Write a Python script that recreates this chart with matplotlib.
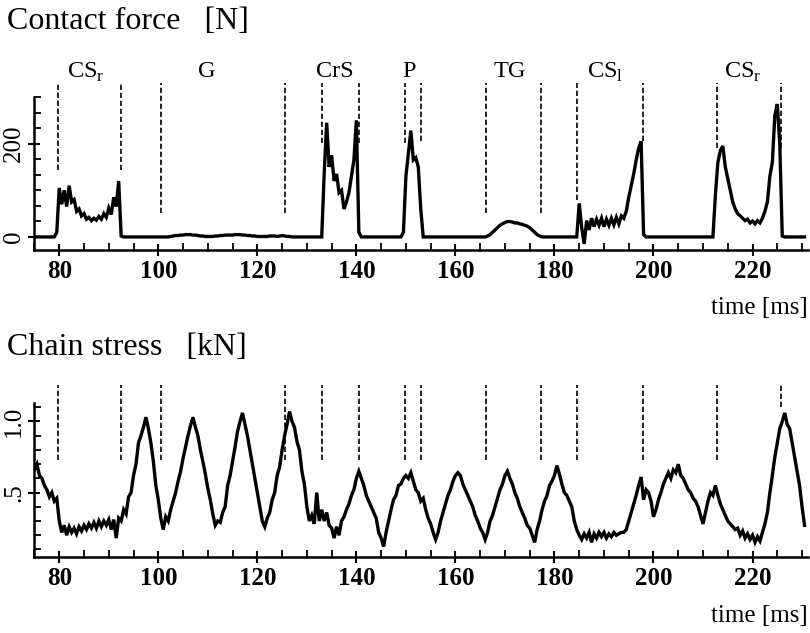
import numpy as np
import matplotlib
matplotlib.use("Agg")
import matplotlib.pyplot as plt
from matplotlib.ticker import MultipleLocator, FixedLocator

plt.rcParams['font.family'] = ['Liberation Serif', 'DejaVu Serif']
plt.rcParams['mathtext.fontset'] = 'custom'
plt.rcParams['mathtext.rm'] = 'Liberation Serif'

# ---------------- data ----------------
t0, dt = 75.0, 0.5   # sampling of the traces (ms)

# contact force [N], rows of 10 samples = 5 ms each
force = [
    0, 0, 0, 0, 0, 0, 0, 0, 0, 10,            # 75
    105, 70, 100, 65, 110, 75, 80, 55, 60, 45,  # 80
    50, 38, 42, 35, 40, 36, 44, 38, 50, 42,     # 85
    62, 48, 85, 65, 120, 2, 0, 0, 0, 0,         # 90
    0, 0, 0, 0, 0, 0, 0, 0, 0, 0,               # 95
    0, 0, 0, 0, 0, 1, 2, 3, 3, 4,               # 100
    4, 5, 5, 5, 4, 4, 3, 2, 2, 1,               # 105
    1, 1, 1, 2, 2, 3, 3, 4, 4, 4,               # 110
    4, 5, 5, 5, 4, 4, 3, 3, 2, 2,               # 115
    1, 1, 1, 1, 1, 2, 2, 2, 1, 2,               # 120
    3, 2, 1, 1, 0, 0, 0, 0, 0, 0,               # 125
    0, 0, 0, 0, 0, 0, 0, 135, 245, 150,         # 130
    175, 120, 135, 95, 100, 60, 75, 95, 130, 165,  # 135
    250, 10, 0, 0, 0, 0, 0, 0, 0, 0,            # 140
    0, 0, 0, 0, 0, 0, 0, 0, 0, 10,              # 145
    130, 180, 228, 165, 170, 150, 60, 0, 0, 0,  # 150
    0, 0, 0, 0, 0, 0, 0, 0, 0, 0,               # 155
    0, 0, 0, 0, 0, 0, 0, 0, 0, 0,               # 160
    0, 0, 0, 2, 5, 10, 15, 20, 25, 28,          # 165
    31, 33, 33, 32, 30, 30, 28, 27, 25, 23,     # 170
    20, 15, 10, 5, 2, 0, 0, 0, 0, 0,            # 175
    0, 0, 0, 0, 0, 0, 0, 0, 0, 0,               # 180
    72, 20, -15, 35, 15, 40, 22, 38, 25, 40,    # 185
    22, 38, 25, 40, 26, 42, 28, 45, 40, 55,     # 190
    85, 110, 135, 165, 190, 205, 5, 0, 0, 0,    # 195
    0, 0, 0, 0, 0, 0, 0, 0, 0, 0,               # 200
    0, 0, 0, 0, 0, 0, 0, 0, 0, 0,               # 205
    0, 0, 0, 0, 0, 90, 160, 185, 195, 150,      # 210
    125, 100, 75, 60, 50, 45, 40, 35, 38, 30,   # 215
    34, 28, 35, 30, 40, 55, 75, 130, 160, 260,  # 220
    285, 200, 2, 0, 0, 0, 0, 0, 0, 0,           # 225
    0, 0,                                       # 230
]

# chain stress [kN], rows of 10 samples = 5 ms each
stress = [
    0.66, 0.70, 0.62, 0.60, 0.55, 0.52, 0.47, 0.50, 0.44, 0.46,  # 75
    0.30, 0.22, 0.27, 0.20, 0.26, 0.22, 0.25, 0.21, 0.26, 0.23,  # 80
    0.27, 0.24, 0.28, 0.25, 0.29, 0.25, 0.30, 0.26, 0.30, 0.27,  # 85
    0.31, 0.24, 0.31, 0.18, 0.32, 0.30, 0.38, 0.35, 0.47, 0.50,  # 90
    0.62, 0.70, 0.85, 0.90, 0.96, 1.03, 0.95, 0.85, 0.72, 0.55,  # 95
    0.45, 0.32, 0.24, 0.33, 0.30, 0.38, 0.44, 0.50, 0.58, 0.65,  # 100
    0.74, 0.82, 0.90, 0.97, 1.03, 0.96, 0.90, 0.80, 0.72, 0.63,  # 105
    0.53, 0.45, 0.35, 0.27, 0.30, 0.29, 0.36, 0.40, 0.55, 0.62,  # 110
    0.72, 0.82, 0.93, 1.00, 1.06, 0.98, 0.90, 0.80, 0.70, 0.60,  # 115
    0.50, 0.40, 0.30, 0.26, 0.32, 0.36, 0.45, 0.50, 0.62, 0.68,  # 120
    0.80, 0.90, 0.98, 1.07, 1.00, 0.96, 0.86, 0.80, 0.65, 0.56,  # 125
    0.40, 0.30, 0.34, 0.28, 0.50, 0.30, 0.38, 0.30, 0.36, 0.27,  # 130
    0.25, 0.18, 0.26, 0.20, 0.30, 0.33, 0.38, 0.42, 0.48, 0.52,  # 135
    0.60, 0.65, 0.60, 0.55, 0.48, 0.44, 0.40, 0.36, 0.32, 0.22,  # 140
    0.18, 0.12, 0.22, 0.30, 0.38, 0.45, 0.48, 0.55, 0.56, 0.60,  # 145
    0.62, 0.60, 0.64, 0.58, 0.52, 0.50, 0.44, 0.46, 0.38, 0.32,  # 150
    0.28, 0.22, 0.17, 0.22, 0.30, 0.36, 0.42, 0.48, 0.52, 0.58,  # 155
    0.62, 0.64, 0.62, 0.56, 0.52, 0.48, 0.44, 0.40, 0.34, 0.30,  # 160
    0.25, 0.22, 0.17, 0.22, 0.30, 0.34, 0.40, 0.46, 0.52, 0.56,  # 165
    0.62, 0.65, 0.60, 0.56, 0.50, 0.46, 0.40, 0.36, 0.32, 0.27,  # 170
    0.25, 0.20, 0.15, 0.24, 0.30, 0.38, 0.44, 0.48, 0.55, 0.58,  # 175
    0.62, 0.69, 0.63, 0.56, 0.50, 0.48, 0.44, 0.40, 0.30, 0.24,  # 180
    0.20, 0.17, 0.21, 0.18, 0.22, 0.15, 0.21, 0.18, 0.22, 0.19,  # 185
    0.22, 0.18, 0.21, 0.19, 0.22, 0.20, 0.21, 0.22, 0.22, 0.24,  # 190
    0.30, 0.36, 0.42, 0.48, 0.55, 0.61, 0.45, 0.52, 0.50, 0.44,  # 195
    0.33, 0.38, 0.45, 0.50, 0.56, 0.60, 0.64, 0.60, 0.66, 0.64,  # 200
    0.70, 0.62, 0.60, 0.56, 0.52, 0.50, 0.46, 0.44, 0.40, 0.34,  # 205
    0.28, 0.36, 0.44, 0.50, 0.48, 0.55, 0.48, 0.42, 0.38, 0.34,  # 210
    0.30, 0.28, 0.26, 0.24, 0.25, 0.20, 0.23, 0.18, 0.21, 0.17,  # 215
    0.20, 0.15, 0.19, 0.16, 0.22, 0.28, 0.36, 0.50, 0.62, 0.75,  # 220
    0.85, 0.95, 1.00, 1.06, 0.98, 0.95, 0.85, 0.75, 0.65, 0.55,  # 225
    0.40, 0.27,                                                  # 230
]

# phase boundaries (ms)
boundaries = [79.7, 92.4, 100.6, 125.5, 133.0, 140.5, 149.8, 153.1,
              166.1, 177.3, 184.6, 197.8, 212.8, 225.7]
# phase labels and their centre times (ms)
phase_labels = ['CS$_\\mathregular{r}$', 'G', 'CrS', 'P', 'TG',
                'CS$_\\mathregular{l}$', 'CS$_\\mathregular{r}$']
phase_centres = [85.3, 109.8, 135.6, 150.7, 171.0, 190.3, 218.0]

# ---------------- styling / layout ----------------
force_line_bottom = [144, 144, 52, 52, 202, 202, 202, 205, 52, 52, 80, 205, 191, 191]
force_line_top = 331
stress_line_bottom = [0.73] * 13 + [1.10]
stress_line_top = 1.26

t_force = t0 + dt * np.arange(len(force))
t_stress = t0 + dt * np.arange(len(stress))

W, H = 810, 633
fig = plt.figure(figsize=(W / 100, H / 100), dpi=100)
ax1 = fig.add_axes([34 / W, 1 - 250 / H, (808 - 34) / W, (250 - 97) / H])
ax2 = fig.add_axes([34 / W, 1 - 557 / H, (808 - 34) / W, (557 - 403) / H])

dash = (0, (3.2, 1.6))
for ax in (ax1, ax2):
    ax.set_xlim(74.9, 231.2)
    for s in ('top', 'right'):
        ax.spines[s].set_visible(False)
    for s in ('left', 'bottom'):
        ax.spines[s].set_linewidth(1.8)
    ax.xaxis.set_major_locator(MultipleLocator(20))
    ax.xaxis.set_minor_locator(MultipleLocator(5))
    ax.tick_params(axis='both', which='major', direction='inout', length=9,
                   width=1.5, labelsize=18)
    ax.tick_params(axis='both', which='minor', direction='in', length=5,
                   width=1.3)
    ax.tick_params(axis='x', which='major', pad=3)
    ax.tick_params(axis='y', which='major', pad=2)

# top panel
ax1.plot(t_force, force, color='black', lw=2.4, solid_joinstyle='miter')
ax1.set_ylim(-28, 300)
ax1.yaxis.set_major_locator(FixedLocator([0, 200]))
ax1.yaxis.set_minor_locator(FixedLocator(list(np.arange(0, 301, 100 / 3))))
ax1.set_yticklabels(['0', '200'], rotation=90, va='center')
for b, yb in zip(boundaries, force_line_bottom):
    ax1.plot([b, b], [yb, force_line_top], color='black', lw=1.2,
             linestyle=dash, clip_on=False)
for lab, c in zip(phase_labels, phase_centres):
    ax1.text(c, 342, lab, ha='center', va='baseline', fontsize=17.5,
             clip_on=False)

# bottom panel
ax2.plot(t_stress, stress, color='black', lw=2.4, solid_joinstyle='miter')
ax2.set_ylim(0.047, 1.13)
ax2.yaxis.set_major_locator(FixedLocator([0.5, 1.0]))
ax2.yaxis.set_minor_locator(MultipleLocator(0.1))
ax2.set_yticklabels(['.5', '1.0'], rotation=90, va='center')
for b, yb in zip(boundaries, stress_line_bottom):
    ax2.plot([b, b], [yb, stress_line_top], color='black', lw=1.2,
             linestyle=dash, clip_on=False)

for ax in (ax1, ax2):
    for lab in ax.get_xticklabels():
        lab.set_fontweight('bold')

fig.text(7 / W, 1 - 29 / H, 'Contact force   [N]', fontsize=23, va='baseline')
fig.text(7 / W, 1 - 355 / H, 'Chain stress   [kN]', fontsize=23, va='baseline')
fig.text(808 / W, 1 - 314 / H, 'time [ms]', fontsize=18, ha='right', va='baseline')
fig.text(808 / W, 1 - 622 / H, 'time [ms]', fontsize=18, ha='right', va='baseline')

fig.savefig('out.png', dpi=100, facecolor='white')
